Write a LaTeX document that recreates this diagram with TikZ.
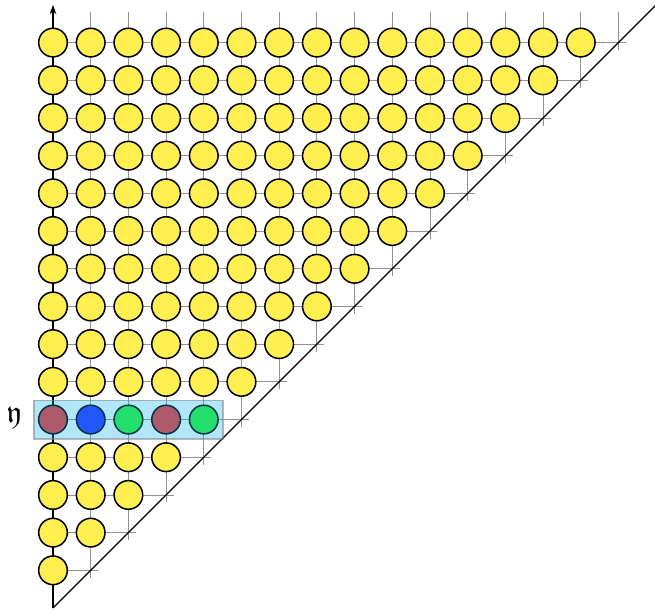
\documentclass[tikz,border=0pt]{standalone}
\usepackage{amssymb}
\usetikzlibrary{arrows.meta,fit}
\definecolor{dotyellow}{RGB}{255,240,80}
\definecolor{dotred}{RGB}{250,54,50}
\definecolor{dotblue}{RGB}{50,50,255}
\definecolor{dotgreen}{RGB}{50,247,50}
\definecolor{hlcyan}{RGB}{0,174,239}
\begin{document}
\begin{tikzpicture}[x=1cm,y=1cm,
  gridline/.style={gray!85, line width=0.6pt},
  dot/.style={circle, draw=black, line width=1.15pt, fill=dotyellow, minimum size=0.76cm, inner sep=0pt},
  highlight/.style={fill=hlcyan, fill opacity=0.3, draw=gray, draw opacity=0.55, line width=1.2pt, inner sep=0.11cm, rectangle},
  diag/.style={line width=0.9pt},
  axis/.style={line width=1.4pt, -{Stealth[length=7pt,width=5pt]}}]
\useasboundingbox (-1.406,-0.053) rectangle (15.97,16.13);
\coordinate (o) at (0,0);
\coordinate (top) at (0,16);
\coordinate (far) at (16,16);
\foreach \i in {1,...,15} \draw[gridline] (\i,\i-0.2) -- (\i,15.8);
\foreach \j in {1,...,15} \draw[gridline] (0,\j) -- (\j+0.2,\j);
\draw[diag] (o) -- (far);
\draw[axis] (o) -- (top);
\foreach \j in {1,...,15} {
  \pgfmathtruncatemacro\m{\j-1}
  \foreach \i in {0,...,\m} {
    \ifnum\j=5
      \ifcase\i
        \node[dot, fill=dotred] (c-\i-\j) at (\i,\j) {};
      \or
        \node[dot, fill=dotblue] (c-\i-\j) at (\i,\j) {};
      \or
        \node[dot, fill=dotgreen] (c-\i-\j) at (\i,\j) {};
      \or
        \node[dot, fill=dotred] (c-\i-\j) at (\i,\j) {};
      \else
        \node[dot, fill=dotgreen] (c-\i-\j) at (\i,\j) {};
      \fi
    \else
      \node[dot] (c-\i-\j) at (\i,\j) {};
    \fi
  }
}
\node[highlight, fit=(c-0-5)(c-4-5)] (row) {};
\node[font=\fontsize{23}{27}\selectfont] (ylab) at (-1.03,5.05) {$\mathfrak{y}$};
\end{tikzpicture}
\end{document}
